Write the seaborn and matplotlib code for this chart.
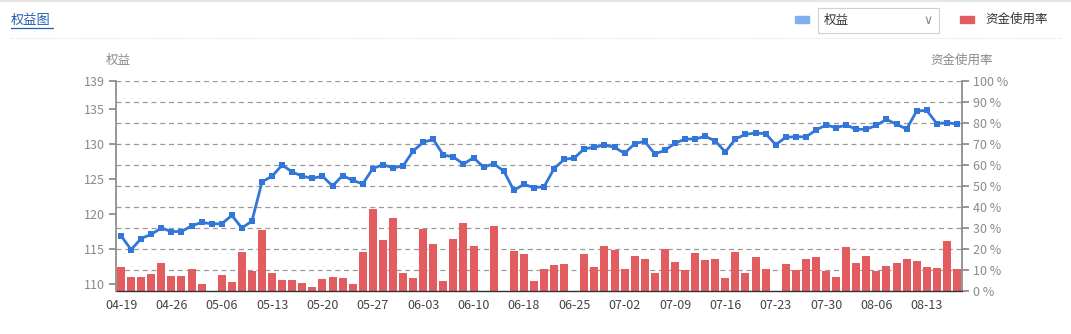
import numpy as np
import pandas as pd
import matplotlib
matplotlib.use("Agg")
import matplotlib.pyplot as plt
from matplotlib.patches import Rectangle
from matplotlib.lines import Line2D
import seaborn as sns

dates = [
    "04-19", "04-20", "04-21", "04-22", "04-23", "04-26", "04-27", "04-28", "04-29", "04-30",
    "05-06", "05-07", "05-10", "05-11", "05-12", "05-13", "05-14", "05-17", "05-18", "05-19",
    "05-20", "05-21", "05-24", "05-25", "05-26", "05-27", "05-28", "05-31",
    "06-01", "06-02", "06-03", "06-04", "06-07", "06-08", "06-09", "06-10", "06-11", "06-15",
    "06-16", "06-17", "06-18", "06-21", "06-22", "06-23", "06-24", "06-25", "06-28", "06-29", "06-30",
    "07-01", "07-02", "07-05", "07-06", "07-07", "07-08", "07-09", "07-12", "07-13", "07-14",
    "07-15", "07-16", "07-19", "07-20", "07-21", "07-22", "07-23", "07-26", "07-27", "07-28",
    "07-29", "07-30",
    "08-02", "08-03", "08-04", "08-05", "08-06", "08-09", "08-10", "08-11", "08-12", "08-13",
    "08-16", "08-17", "08-18",
]

equity = [
    116.9, 114.9, 116.5, 117.1, 118.0, 117.5, 117.5, 118.3, 118.8, 118.6,
    118.6, 119.8, 118.0, 119.0, 124.6, 125.4, 127.0, 126.0, 125.4, 125.1,
    125.4, 124.0, 125.5, 124.8, 124.3, 126.5, 127.05, 126.6, 126.86, 129.0,
    130.24, 130.67, 128.43, 128.14, 127.14, 128.05, 126.67, 127.19, 126.14, 123.38,
    124.24, 123.76, 123.9, 126.48, 127.81, 128.0, 129.33, 129.52, 129.86, 129.52,
    128.67, 130.05, 130.38, 128.57, 129.1, 130.1, 130.71, 130.71, 131.1, 130.43,
    128.86, 130.71, 131.38, 131.57, 131.48, 129.9, 130.95, 131.05, 131.0, 132.0,
    132.71, 132.33, 132.71, 132.1, 132.1, 132.67, 133.52, 132.81, 132.14, 134.71,
    134.81, 132.9, 133.05, 132.86,
]

usage = [
    11.4, 6.8, 6.8, 7.9, 13.5, 7.1, 7.1, 10.6, 3.2, 0.0,
    7.5, 4.4, 18.7, 9.4, 29.2, 8.6, 5.2, 5.2, 4.0, 2.1,
    5.6, 6.8, 6.3, 3.2, 18.7, 38.9, 24.3, 34.9, 8.7, 6.3,
    29.4, 22.2, 4.8, 24.6, 32.4, 21.4, 0.0, 31.0, 0.0, 19.0,
    17.8, 4.8, 10.6, 12.2, 12.7, 0.0, 17.8, 11.6, 21.4, 19.4,
    10.3, 16.7, 15.4, 8.4, 19.8, 14.0, 10.0, 18.1, 14.8, 15.2,
    6.0, 18.7, 8.7, 16.0, 10.5, 0.0, 13.0, 10.0, 15.1, 16.3,
    9.4, 6.5, 21.1, 13.2, 16.8, 9.7, 12.1, 13.3, 15.2, 14.4,
    11.4, 10.8, 23.7, 10.5,
]

left_ticks = [110, 115, 120, 125, 130, 135, 139]
right_ticks = list(range(0, 101, 10))

assert len(dates) == len(equity) == len(usage) == 84

sns.set_theme(style="white")
plt.rcParams["font.family"] = ["Noto Sans CJK SC", "DejaVu Sans"]

W, H = 1071, 334
fig = plt.figure(figsize=(W / 100, H / 100), dpi=100)

def fx(x):
    return x / W

def fy(y):
    return 1 - y / H

ax = fig.add_axes([fx(116), fy(291), fx(962) - fx(116), fy(81) - fy(291)])
ax2 = ax.twinx()

df = pd.DataFrame({"date": dates, "usage": usage, "equity": equity, "idx": np.arange(len(dates))})

BAR = "#e35c60"
LINE = "#3376d9"
GRID = "#9a9a9a"
TICK = "#8a8a8a"

# bars: usage on the right-hand scale
sns.barplot(data=df, x="idx", y="usage", ax=ax, color=BAR, width=0.8,
            saturation=1, edgecolor="none")
ax.set_xlim(-0.5, len(dates) - 0.5)
ax.set_ylim(0, 100)
ax.set_xlabel("")
ax.set_ylabel("")
ax.grid(axis="y", linestyle=(0, (4, 3)), color=GRID, linewidth=0.9)
ax.set_axisbelow(True)

label_pos = list(range(0, len(dates), 5))
ax.set_xticks(label_pos)
ax.set_xticklabels([dates[i] for i in label_pos], color="#444444", fontsize=9)
ax.tick_params(axis="x", length=0, pad=6)
ax.set_xticks([p + 2.5 for p in label_pos if p + 2.5 < len(dates)], minor=True)
ax.tick_params(axis="x", which="minor", length=5, color="#333333", width=1)

# line: equity on the left-hand scale
sns.lineplot(data=df, x="idx", y="equity", ax=ax2, color=LINE, linewidth=2,
             marker="s", markersize=4, markeredgewidth=0)
ax2.set_ylim(109, 139)
ax2.set_xlim(-0.5, len(dates) - 0.5)
ax2.set_xlabel("")
ax2.set_ylabel("")
ax2.grid(False)

# axis sides (after twinx)
ax.yaxis.set_ticks_position("right")
ax.yaxis.set_label_position("right")
ax.set_yticks(right_ticks)
ax.set_yticklabels([f"{v} %" for v in right_ticks], color=TICK, fontsize=9)
ax.tick_params(axis="y", length=5, color=TICK, pad=3, left=False, right=True,
               labelleft=False, labelright=True)

ax2.yaxis.set_ticks_position("left")
ax2.yaxis.set_label_position("left")
ax2.set_yticks(left_ticks)
ax2.set_yticklabels([str(v) for v in left_ticks], color=TICK, fontsize=9)
ax2.tick_params(axis="y", length=5, color=TICK, pad=3, left=True, right=False,
                labelleft=True, labelright=False)

for s in ["top", "left"]:
    ax.spines[s].set_visible(False)
ax.spines["right"].set_visible(True)
ax.spines["right"].set_color(TICK)
ax.spines["bottom"].set_color("#333333")
ax.spines["bottom"].set_linewidth(1)
for s in ["top", "right", "bottom"]:
    ax2.spines[s].set_visible(False)
ax2.spines["left"].set_visible(True)
ax2.spines["left"].set_color(TICK)

# axis titles
fig.text(fx(118), fy(60), "权益", ha="center", va="center", fontsize=9, color=TICK)
fig.text(fx(962), fy(60), "资金使用率", ha="center", va="center", fontsize=9, color=TICK)

# header
fig.text(fx(11), fy(20), "权益图", ha="left", va="center", fontsize=9.5, color="#1f5fb0")
fig.add_artist(Line2D([fx(11), fx(53)], [fy(28), fy(28)], color="#1f5fb0", linewidth=0.9))
fig.add_artist(Line2D([fx(10), fx(1061)], [fy(38), fy(38)], color="#dddddd",
                      linewidth=0.8, linestyle=(0, (1, 1.5))))
fig.add_artist(Line2D([0, 1], [fy(1), fy(1)], color="#e6e6e6", linewidth=1.5))

# legend with dropdown
fig.add_artist(Rectangle((fx(795), fy(23)), fx(14), fy(16) - fy(23), color="#7fb1f2",
                         transform=fig.transFigure))
fig.add_artist(Rectangle((fx(818), fy(33)), fx(121), fy(8) - fy(33), facecolor="white",
                         edgecolor="#d0d0d0", linewidth=0.8, transform=fig.transFigure))
fig.text(fx(824), fy(20.5), "权益", ha="left", va="center", fontsize=9, color="#333333")
fig.text(fx(928), fy(20.5), "∨", ha="center", va="center", fontsize=9, color="#888888",
         family=["DejaVu Sans"])
fig.add_artist(Rectangle((fx(960), fy(23)), fx(14), fy(16) - fy(23), color="#e35c60",
                         transform=fig.transFigure))
fig.text(fx(985), fy(19.5), "资金使用率", ha="left", va="center", fontsize=9, color="#333333")

fig.savefig("out.png", dpi=100, facecolor="white")
